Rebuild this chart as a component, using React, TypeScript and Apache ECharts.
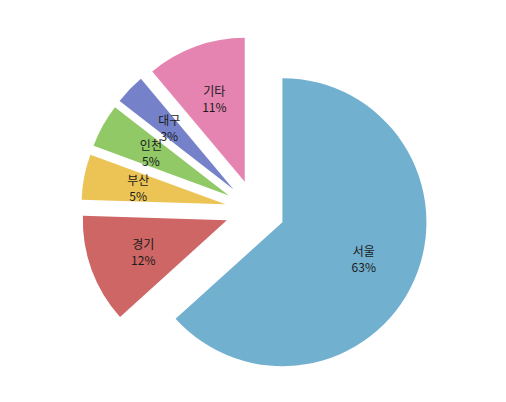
import React, { useEffect, useRef } from "react";
import * as echarts from "echarts";

const categories = ["서울", "경기", "부산", "인천", "대구", "기타"];
const values = [63.3, 12.2, 5.1, 4.9, 3.4, 11.1];
const colors = ["#72b0d0", "#cd6664", "#ebc455", "#91c967", "#7582c9", "#e584b1"];

export default function App() {
  const ref = useRef<HTMLDivElement>(null);
  useEffect(() => {
    if (!ref.current) return;
    const chart = echarts.init(ref.current, null, { renderer: "svg" });
    const center = [255, 210];
    const common = {
      type: "pie",
      center,
      startAngle: 90,
      clockwise: true,
      selectedMode: "multiple",
      selectedOffset: 30,
      avoidLabelOverlap: false,
      emphasis: { disabled: true },
      labelLine: { show: false },
    };
    chart.setOption({
      animation: false,
      series: [
        {
          ...common,
          radius: [0, 144],
          label: { show: false },
          data: categories.map((c, i) => ({
            name: c,
            value: values[i],
            selected: true,
            itemStyle: { color: colors[i], borderWidth: 0 },
          })),
        },
        {
          ...common,
          radius: [28, 144],
          silent: true,
          percentPrecision: 1,
          labelLayout: { hideOverlap: false },
          label: {
            show: true,
            position: "inside",
            color: "#1a1a1a",
            fontSize: 12,
            lineHeight: 16,
            fontFamily: "'Noto Sans CJK KR', 'Noto Sans', sans-serif",
            formatter: (p: any) => `${p.name}\n${Math.round(p.percent)}%`,
          },
          data: categories.map((c, i) => ({
            name: c,
            value: values[i],
            selected: true,
            itemStyle: { color: "rgba(0,0,0,0)", borderWidth: 0 },
          })),
        },
      ],
    });
    return () => chart.dispose();
  }, []);
  return (
    <div
      ref={ref}
      style={{ position: "fixed", left: 0, top: 0, width: 506, height: 402, background: "#fff" }}
    />
  );
}
